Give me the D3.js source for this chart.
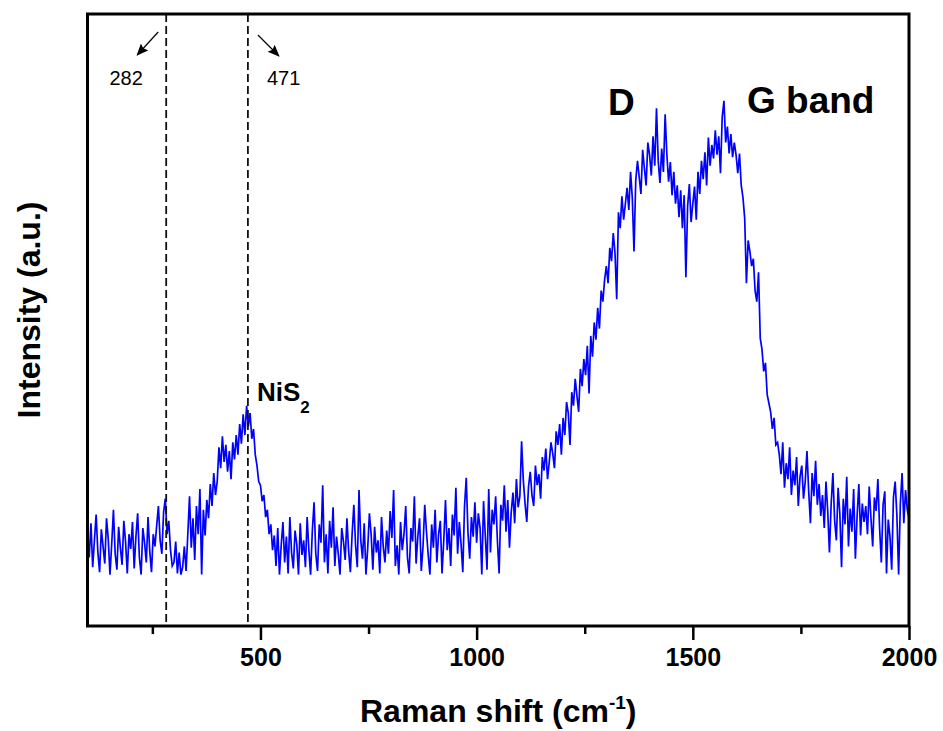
<!DOCTYPE html>
<html>
<head>
<meta charset="utf-8">
<script src="https://cdn.jsdelivr.net/npm/d3@7"></script>
<style>
  body { margin: 0; background: #fff; }
  text { font-family: "Liberation Sans", Arial, sans-serif; }
</style>
</head>
<body>
<div id="chart"></div>
<script>
// Raman spectrum, sampled every 4 cm-1 from 100 to 2000 cm-1 (intensity in a.u.)
const shiftStart = 100;
const shiftStep = 4;
const intensity = [
  150,112,168,96,140,182,120,88,158,130,102,176,142,84,134,190,118,92,162,128,100,172,138,86,150,
  126,170,94,146,184,112,84,160,136,104,178,122,88,150,130,164,196,140,118,186,208,150,172,124,98,
  104,138,86,120,84,96,130,90,150,212,128,176,108,196,150,224,84,190,148,206,176,232,196,250,214,
  236,292,258,310,268,296,252,286,240,300,272,312,280,330,298,346,312,360,326,348,306,322,280,262,236,
  230,204,214,178,190,150,166,124,148,98,160,84,132,170,104,146,86,178,120,94,156,134,84,168,116,
  140,96,178,124,84,156,202,118,90,166,136,230,104,150,86,172,128,194,98,146,118,84,160,138,108,
  176,122,88,150,198,132,96,222,140,110,168,84,126,184,150,92,162,120,140,86,178,130,104,156,118,
  188,144,222,98,132,84,170,124,150,196,112,86,160,138,212,102,146,176,90,130,198,154,116,84,166,
  128,190,104,150,172,86,140,206,124,160,98,182,148,226,118,170,134,88,196,242,152,110,178,146,202,
  136,184,160,84,204,148,92,224,120,190,166,212,140,86,198,172,230,154,206,128,186,218,168,240,194,
  212,302,238,200,170,228,252,214,196,262,230,248,208,276,254,290,240,268,300,282,258,318,296,330,280,
  340,312,366,348,296,382,360,404,376,350,420,392,436,410,458,380,474,440,496,468,520,486,548,530,566,
  588,560,618,596,642,610,534,676,650,702,664,690,716,680,742,700,612,728,760,734,706,778,748,720,790,
  770,736,800,752,846,760,724,780,742,836,770,726,758,704,742,690,720,668,712,650,704,570,686,722,660,
  690,718,664,742,706,760,730,774,720,798,752,786,764,810,770,800,740,832,858,790,816,772,804,766,790,
  770,740,772,720,700,666,560,630,612,588,600,548,530,578,470,452,416,430,378,364,350,322,340,296,300,
  280,248,300,226,266,240,292,214,254,230,276,196,244,262,208,236,286,220,168,250,212,270,198,232,180,
  214,160,236,188,120,200,250,172,140,226,184,96,208,166,244,130,192,154,224,110,180,232,148,200,170,
  196,150,228,176,130,210,188,240,160,104,198,220,86,174,146,92,210,236,180,84,200,250,168,222,190,
  176
];

const majorTicks = [500, 1000, 1500, 2000];
const minorTicks = [250, 750, 1250, 1750];
const markers = [282, 471];

function init() {
    const width = 943;
    const height = 731;
    const margin = { top: 14, right: 34, bottom: 105, left: 87.5 };

    const data = intensity.map((v, i) => ({ shift: shiftStart + i * shiftStep, value: v }));

    const xScale = d3.scaleLinear().domain([100, 2000]).range([margin.left, width - margin.right]);
    const yScale = d3.scaleLinear().domain([0, 1000]).range([height - margin.bottom, margin.top]);

    const svg = d3.select("#chart")
        .append("svg")
        .attr("width", width)
        .attr("height", height);

    const defs = svg.append("defs");
    defs.append("marker")
        .attr("id", "arrow")
        .attr("viewBox", "0 0 12 10")
        .attr("refX", 11)
        .attr("refY", 5)
        .attr("markerWidth", 13)
        .attr("markerHeight", 10)
        .attr("markerUnits", "userSpaceOnUse")
        .attr("orient", "auto")
        .append("path")
        .attr("d", "M0,0 L12,5 L0,10 L2,5 z")
        .attr("fill", "#000");

    const plotTop = margin.top;
    const plotBottom = height - margin.bottom;

    // Spectrum
    const line = d3.line()
        .x(d => xScale(d.shift))
        .y(d => yScale(d.value));

    svg.append("path")
        .datum(data)
        .attr("fill", "none")
        .attr("stroke", "#0000ff")
        .attr("stroke-width", 1.7)
        .attr("d", line);

    // Dashed marker lines
    svg.selectAll(".marker")
        .data(markers)
        .enter()
        .append("line")
        .attr("class", "marker")
        .attr("x1", d => xScale(d))
        .attr("x2", d => xScale(d))
        .attr("y1", plotTop)
        .attr("y2", plotBottom)
        .attr("stroke", "#111")
        .attr("stroke-width", 1.8)
        .attr("stroke-dasharray", "8,4");

    // Arrows + labels
    const x282 = xScale(282), x471 = xScale(471);
    svg.append("line")
        .attr("x1", x282 - 8).attr("y1", 32)
        .attr("x2", x282 - 29).attr("y2", 55)
        .attr("stroke", "#000").attr("stroke-width", 1.2)
        .attr("marker-end", "url(#arrow)");
    svg.append("text")
        .attr("x", x282 - 40).attr("y", 85)
        .attr("text-anchor", "middle")
        .attr("font-size", 20)
        .text("282");

    svg.append("line")
        .attr("x1", x471 + 10).attr("y1", 35)
        .attr("x2", x471 + 31).attr("y2", 56)
        .attr("stroke", "#000").attr("stroke-width", 1.2)
        .attr("marker-end", "url(#arrow)");
    svg.append("text")
        .attr("x", x471 + 19).attr("y", 85)
        .attr("font-size", 20)
        .text("471");

    // Peak labels
    const nis = svg.append("text")
        .attr("x", 257).attr("y", 401)
        .attr("font-size", 26)
        .attr("font-weight", "bold");
    nis.append("tspan").text("NiS");
    nis.append("tspan").attr("font-size", 17).attr("dy", 12).text("2");

    svg.append("text")
        .attr("x", 608).attr("y", 115)
        .attr("font-size", 37)
        .attr("font-weight", "bold")
        .text("D");

    svg.append("text")
        .attr("x", 747).attr("y", 113)
        .attr("font-size", 37)
        .attr("font-weight", "bold")
        .text("G band");

    // Axis ticks
    const major = svg.append("g")
        .attr("transform", `translate(0,${plotBottom})`)
        .call(d3.axisBottom(xScale).tickValues(majorTicks).tickSize(14).tickPadding(8).tickFormat(d3.format("d")));
    major.select(".domain").remove();
    major.selectAll("line").attr("stroke", "#000").attr("stroke-width", 2.5);
    major.selectAll("text")
        .attr("font-size", 25)
        .attr("font-weight", "bold")
        .attr("fill", "#000");

    const minor = svg.append("g")
        .attr("transform", `translate(0,${plotBottom})`)
        .call(d3.axisBottom(xScale).tickValues(minorTicks).tickSize(8).tickFormat(""));
    minor.select(".domain").remove();
    minor.selectAll("line").attr("stroke", "#000").attr("stroke-width", 2.5);

    // Frame
    svg.append("rect")
        .attr("x", margin.left)
        .attr("y", plotTop)
        .attr("width", width - margin.right - margin.left)
        .attr("height", plotBottom - plotTop)
        .attr("fill", "none")
        .attr("stroke", "#000")
        .attr("stroke-width", 3);

    // Axis titles
    const xt = svg.append("text")
        .attr("text-anchor", "middle")
        .attr("x", (margin.left + width - margin.right) / 2)
        .attr("y", 722)
        .attr("font-size", 32)
        .attr("font-weight", "bold");
    xt.append("tspan").text("Raman shift (cm");
    xt.append("tspan").attr("font-size", 19).attr("dy", -13).text("-1");
    xt.append("tspan").attr("dy", 13).text(")");

    svg.append("text")
        .attr("text-anchor", "middle")
        .attr("transform", "rotate(-90)")
        .attr("x", -310)
        .attr("y", 40)
        .attr("font-size", 32)
        .attr("font-weight", "bold")
        .text("Intensity (a.u.)");
}

window.onload = init;
</script>
</body>
</html>
